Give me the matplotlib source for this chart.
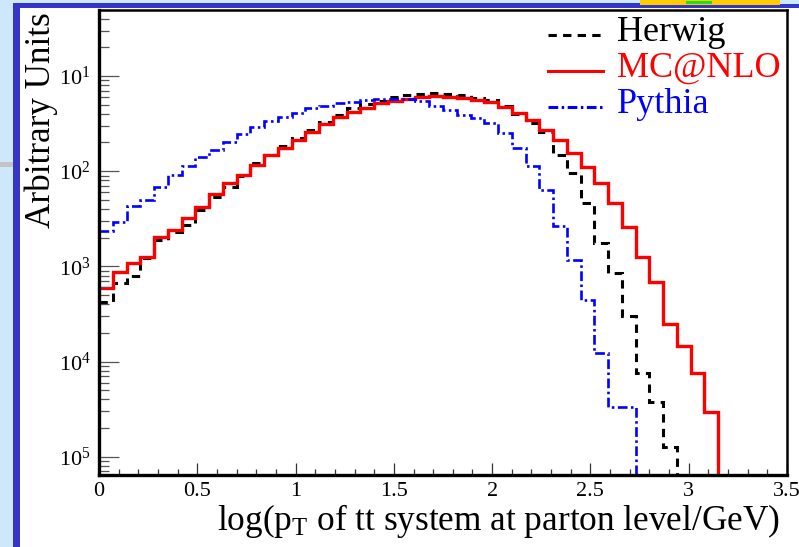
import numpy as np
import matplotlib
matplotlib.use("Agg")
import matplotlib.pyplot as plt
from matplotlib.patches import Rectangle
from matplotlib.ticker import LogLocator, MultipleLocator, NullFormatter

# ---- data -------------------------------------------------------------
bin_edges = np.linspace(0.0, 3.5, 51)   # 50 bins of width 0.07

herwig = [4.23e-4, 6.70e-4, 7.92e-4, 1.22e-3, 1.89e-3, 2.32e-3, 2.72e-3, 3.91e-3, 5.36e-3, 6.82e-3,
          8.91e-3, 1.22e-2, 1.48e-2, 1.84e-2, 2.23e-2, 2.71e-2, 3.29e-2, 3.89e-2, 4.61e-2, 5.08e-2,
          5.46e-2, 6.01e-2, 6.31e-2, 6.47e-2, 6.62e-2, 6.47e-2, 6.24e-2, 5.87e-2, 5.60e-2, 4.84e-2,
          3.99e-2, 3.21e-2, 2.58e-2, 1.48e-2, 9.59e-3, 4.63e-3, 1.76e-3, 8.53e-4, 3.01e-4, 7.59e-5,
          3.77e-5, 1.27e-5, 0, 0, 0, 0, 0, 0, 0, 0]

mcatnlo = [5.93e-4, 8.79e-4, 1.09e-3, 1.26e-3, 2.04e-3, 2.41e-3, 3.22e-3, 4.21e-3, 5.77e-3, 7.57e-3,
           9.12e-3, 1.16e-2, 1.48e-2, 1.74e-2, 2.13e-2, 2.60e-2, 3.10e-2, 3.74e-2, 4.22e-2, 4.57e-2,
           5.16e-2, 5.50e-2, 5.73e-2, 5.97e-2, 6.11e-2, 6.07e-2, 5.92e-2, 5.60e-2, 5.37e-2, 4.69e-2,
           4.06e-2, 3.45e-2, 2.71e-2, 2.13e-2, 1.54e-2, 1.11e-2, 7.46e-3, 4.60e-3, 2.61e-3, 1.26e-3,
           6.90e-4, 2.48e-4, 1.44e-4, 7.53e-5, 2.98e-5, 0, 0, 0, 0, 0]

pythia = [2.36e-3, 2.92e-3, 4.31e-3, 4.98e-3, 6.82e-3, 9.12e-3, 1.14e-2, 1.41e-2, 1.67e-2, 2.03e-2,
          2.46e-2, 2.91e-2, 3.37e-2, 3.71e-2, 4.08e-2, 4.61e-2, 4.84e-2, 5.20e-2, 5.37e-2, 5.60e-2,
          5.73e-2, 5.73e-2, 5.66e-2, 5.46e-2, 4.84e-2, 4.40e-2, 3.89e-2, 3.62e-2, 3.21e-2, 2.52e-2,
          1.75e-2, 1.14e-2, 6.35e-3, 2.65e-3, 1.17e-3, 4.44e-4, 1.23e-4, 3.33e-5, 3.33e-5, 0,
          0, 0, 0, 0, 0, 0, 0, 0, 0, 0]

series_labels = ["Herwig", "MC@NLO", "Pythia"]

x_ticks = [0, 0.5, 1, 1.5, 2, 2.5, 3, 3.5]
x_tick_labels = ["0", "0.5", "1", "1.5", "2", "2.5", "3", "3.5"]
y_ticks = [1e-1, 1e-2, 1e-3, 1e-4, 1e-5]
y_tick_labels = [r"$10^{1}$", r"$10^{2}$", r"$10^{3}$", r"$10^{4}$", r"$10^{5}$"]

x_label = r"log(p$_{\mathrm{T}}$ of tt system at parton level/GeV)"
y_label = "Arbitrary Units"

# ---- style ------------------------------------------------------------
plt.rcParams["font.family"] = ["Liberation Serif", "DejaVu Serif"]
plt.rcParams["mathtext.fontset"] = "custom"
plt.rcParams["mathtext.rm"] = "Liberation Serif"
plt.rcParams["mathtext.it"] = "Liberation Serif:italic"
plt.rcParams["mathtext.bf"] = "Liberation Serif:bold"
plt.rcParams["lines.scale_dashes"] = False

W, H = 799, 547
fig = plt.figure(figsize=(W / 100, H / 100), dpi=100, facecolor="white")


def px_rect(x0, y0, x1, y1, color):
    """Rectangle given in pixel coordinates measured from the top-left."""
    fig.patches.append(Rectangle((x0 / W, 1 - y1 / H), (x1 - x0) / W, (y1 - y0) / H,
                                 transform=fig.transFigure, facecolor=color,
                                 edgecolor="none", zorder=0))


# slide frame around the plot
px_rect(0, 0, 13, H, "#cde8fa")
px_rect(0, 0, W, 3, "#cde8fa")
px_rect(0, 162, 13, 167, "#c4c4c4")
px_rect(13, 3, 20, H, "#3535c8")
px_rect(13, 3, W, 8, "#3535c8")
px_rect(640, 0, 780, 5, "#ffcc00")
px_rect(780, 0, W, 4, "#cde8fa")
px_rect(686, 1, 712, 4, "#22dd22")

ax = fig.add_axes([99 / W, 1 - 475 / H, (787 - 99) / W, (475 - 10) / H])
ax.set_facecolor("white")

ax.stairs(herwig, bin_edges, baseline=None, color="black", lw=2.2,
          linestyle=(0, (6, 4.5)), label=series_labels[0])
ax.stairs(mcatnlo, bin_edges, baseline=None, color="#ff0000", lw=2.4,
          linestyle="-", label=series_labels[1])
ax.stairs(pythia, bin_edges, baseline=None, color="#0000ff", lw=1.9,
          linestyle=(0, (7, 2.5, 1.8, 2.5)), label=series_labels[2])

ax.set_xlim(0, 3.5)
ax.set_yscale("log")
ax.set_ylim(6.43e-6, 0.493)

ax.set_xticks(x_ticks, x_tick_labels)
ax.xaxis.set_minor_locator(MultipleLocator(0.1))
ax.set_yticks(y_ticks, y_tick_labels)
ax.yaxis.set_minor_locator(LogLocator(base=10, subs=np.arange(2, 10), numticks=30))
ax.yaxis.set_minor_formatter(NullFormatter())

ax.tick_params(axis="x", which="major", direction="in", length=9, width=0.9,
               labelsize=16, pad=5, color="#333333")
ax.tick_params(axis="x", which="minor", direction="in", length=4.5, width=0.9,
               color="#333333")
ax.tick_params(axis="y", which="major", direction="in", length=14.5, width=0.9,
               labelsize=16, pad=6, color="#555555")
ax.tick_params(axis="y", which="minor", direction="in", length=7, width=0.9,
               color="#555555")

for side in ("left", "bottom"):
    ax.spines[side].set_linewidth(2.4)
for side in ("top", "right"):
    ax.spines[side].set_linewidth(1.8)

leg = ax.legend(loc="upper left", bbox_to_anchor=(548 / W, 1 - 16 / H),
                bbox_transform=fig.transFigure, frameon=False, fontsize=26,
                handlelength=1.52, handletextpad=0.4, labelspacing=0.07,
                borderpad=0, borderaxespad=0, labelcolor="linecolor")
for h in leg.legend_handles:
    h.set_linewidth(2.2)
    # sit the sample lines a little below the middle of each label
    h.set_ydata(np.asarray(h.get_ydata()) - 4.5)

fig.text(780 / W, 1 - 530 / H, x_label, ha="right", va="baseline", fontsize=25.4)
fig.text(41 / W, 1 - 12 / H, y_label, ha="center", va="top", rotation=90, fontsize=25.3)

fig.savefig("out.png", dpi=100, facecolor="white")
